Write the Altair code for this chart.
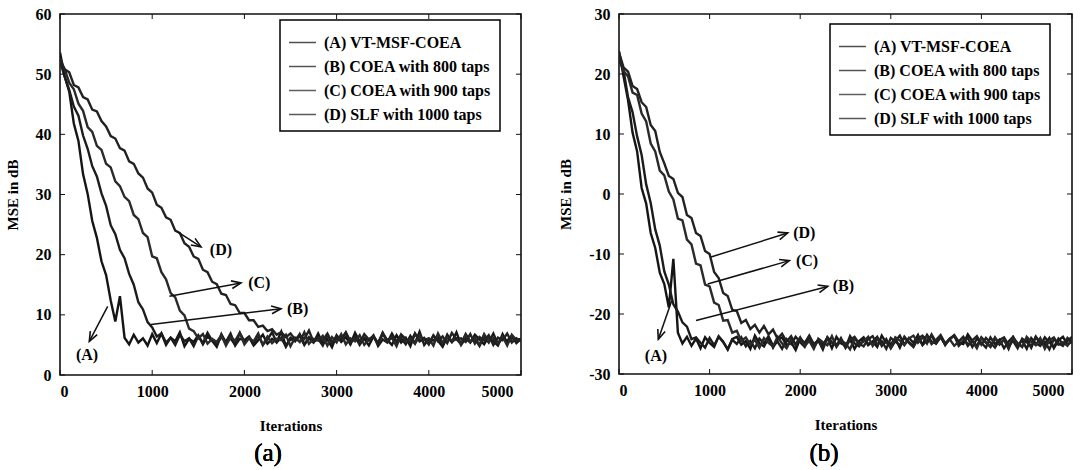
import math
import altair as alt
import pandas as pd

# ---------------- data ----------------
ITER = list(range(0, 5001, 50))
SERIES = ["(A) VT-MSF-COEA", "(B) COEA with 800 taps",
          "(C) COEA with 900 taps", "(D) SLF with 1000 taps"]
X_TICKS = [0, 1000, 2000, 3000, 4000, 5000]
YA_TICKS = [0, 10, 20, 30, 40, 50, 60]
YB_TICKS = [-30, -20, -10, 0, 10, 20, 30]

# panel (a)
A_A = [53.6, 49.7, 47.1, 41.8, 38.9, 33.4, 30.1, 25.6, 22.8, 18.9, 16.6, 12.4, 8.9, 13.1,
       6.2, 5.1, 6.7, 5.4, 6.1, 4.9, 6.8,
       5.3, 6.9, 5.0, 6.2, 5.6, 7.1, 4.8, 6.0, 5.5, 6.6,
       5.1, 6.4, 5.7, 4.7, 6.8, 5.4, 6.1, 5.0, 7.0, 5.6,
       6.3, 4.9, 5.8, 6.7, 5.2, 6.0, 5.5, 7.2, 4.8, 6.2,
       5.7, 6.5, 5.0, 6.1, 5.4, 6.9, 5.2, 5.9, 4.6, 6.6,
       5.5, 6.3, 5.1, 7.0, 5.6, 6.0, 4.9, 6.4, 5.3, 6.8,
       5.8, 5.0, 6.6, 5.4, 6.2, 4.8, 6.9, 5.6, 6.0, 5.2,
       6.5, 5.7, 4.7, 6.3, 5.5, 7.1, 5.0, 6.1, 5.4, 6.7,
       5.9, 5.1, 6.4, 5.6, 4.9, 6.8, 5.3, 6.2, 5.7, 6.0]
B_A = [52.2, 49.6, 47.4, 44.6, 43.1, 39.8, 37.6, 34.7, 33.0, 30.2, 28.1, 24.9, 23.4,
       20.8, 19.4, 16.8, 15.0, 12.1, 10.9, 8.8, 7.9, 6.4, 6.9,
       5.4, 6.2, 5.0, 6.7, 5.6, 6.1, 4.8, 6.5, 5.3, 7.0,
       5.7, 5.1, 6.3, 5.5, 6.9, 4.9, 6.0, 5.8, 6.4, 5.2,
       6.6, 5.0, 5.9, 7.1, 5.4, 6.2, 4.7, 6.0, 5.6, 6.8,
       5.1, 6.3, 5.5, 6.0, 4.9, 6.7, 5.3, 6.1, 5.8, 7.0,
       5.2, 6.4, 5.0, 6.2, 5.7, 6.6, 4.8, 5.9, 5.4, 6.9,
       5.6, 6.1, 5.1, 6.5, 5.3, 7.2, 5.0, 6.0, 5.7, 6.3,
       4.9, 6.7, 5.5, 6.1, 5.2, 6.8, 5.6, 6.0, 4.8, 6.4,
       5.4, 6.9, 5.1, 6.2, 5.7, 6.5, 5.3, 6.0]
C_A = [52.0, 50.9, 48.6, 47.5, 45.1, 43.9, 41.2, 40.4, 38.1, 37.4, 35.1, 34.5, 32.2,
       31.4, 29.6, 28.9, 26.6, 25.9, 23.6, 22.9, 19.7, 19.4, 17.1, 15.9, 13.6, 12.9,
       10.7, 9.9, 7.7, 7.3, 6.1,
       6.8, 5.2, 6.0, 5.5, 6.6, 4.9, 6.3, 5.7, 7.0, 5.1,
       6.1, 5.6, 6.9, 5.0, 6.4, 5.3, 6.0, 5.8, 6.7, 4.8,
       6.2, 5.5, 7.1, 5.2, 6.0, 5.7, 6.5, 4.9, 6.3, 5.4,
       6.8, 5.1, 6.1, 5.6, 6.6, 5.0, 5.9, 6.4, 5.3, 7.0,
       5.5, 6.2, 4.8, 6.7, 5.6, 6.0, 5.2, 6.5, 5.8, 6.1,
       4.9, 6.9, 5.4, 6.3, 5.7, 6.0, 5.1, 6.6, 5.5, 6.2,
       5.0, 6.8, 5.6, 6.1, 5.3, 6.4, 4.9, 6.7, 5.8, 6.0]
D_A = [52.6, 50.8, 50.3, 48.2, 47.8, 46.2, 45.8, 44.1, 43.8, 42.2, 41.3, 39.7, 39.3,
       37.7, 37.3, 35.5, 35.1, 33.5, 32.8, 31.0, 30.3, 28.3, 27.8, 26.2, 25.8, 24.0,
       23.6, 21.9, 21.3, 19.7, 19.3, 17.5, 17.1, 15.5, 15.1, 13.5, 13.3, 11.8, 11.6,
       10.3, 10.3, 9.1, 9.1, 8.0, 8.2, 7.3, 7.6, 6.7, 7.1, 6.3, 6.9,
       5.9, 6.6, 6.0, 7.4, 5.5, 6.3, 5.8, 6.9, 5.4, 6.5,
       6.0, 7.1, 5.6, 6.2, 5.3, 6.8, 5.9, 6.4, 5.2, 7.0,
       5.7, 6.3, 5.5, 6.7, 6.0, 5.4, 6.9, 5.8, 6.2, 5.1,
       6.6, 5.6, 6.4, 5.3, 7.0, 5.9, 6.1, 5.5, 6.8, 5.2,
       6.3, 5.7, 6.6, 5.0, 6.2, 5.8, 6.9, 5.4, 6.1, 5.6]

# panel (b)
A_B = [23.8, 19.6, 15.6, 10.2, 7.1, 1.0, -1.6, -6.5, -9.0, -13.1, -15.0, -18.9, -10.8,
       -23.1, -24.9, -23.8,
       -25.3, -24.1, -25.7, -23.9, -24.8, -25.5, -23.7, -24.6, -25.9, -24.2,
       -23.8, -25.1, -24.5, -25.8, -23.6, -24.9, -25.4, -24.0, -25.6, -24.3,
       -23.9, -25.2, -24.7, -26.0, -24.1, -25.0, -23.7, -25.5, -24.4, -25.1,
       -24.0, -25.7, -23.8, -24.9, -25.3, -24.2, -25.8, -24.5, -23.9, -25.2,
       -24.6, -25.5, -23.6, -24.8, -25.0, -24.1, -25.6, -23.8, -24.7, -25.3,
       -24.0, -25.1, -23.5, -24.6, -24.9, -23.7, -25.2, -24.1, -23.6, -24.8,
       -25.0, -23.4, -24.5, -25.3, -23.9, -24.7, -25.5, -24.0, -25.1, -24.3,
       -25.8, -23.9, -24.9, -25.4, -24.2, -25.6, -23.8, -24.7, -25.2, -24.0,
       -25.7, -24.4, -23.8, -25.1, -24.6]
B_B = [22.4, 20.6, 16.1, 13.6, 9.6, 6.5, 1.6, -1.5, -5.9, -8.6, -12.9, -15.1, -18.4,
       -19.6, -21.4, -22.1, -24.2, -23.9,
       -24.8, -25.6, -24.0, -25.2, -23.8, -24.7, -25.9, -24.3, -25.0, -23.9,
       -25.4, -24.5, -25.7, -24.1, -24.9, -23.7, -25.3, -24.6, -25.8, -24.2,
       -25.0, -23.8, -24.7, -25.5, -24.0, -25.2, -24.4, -25.9, -23.9, -24.8,
       -25.1, -24.3, -25.6, -23.7, -24.9, -25.4, -24.1, -25.0, -24.6, -23.8,
       -25.3, -24.2, -25.7, -24.5, -23.6, -25.1, -24.0, -24.8, -23.5, -25.2,
       -24.4, -23.7, -24.9, -23.9, -25.0, -24.2, -23.6, -25.3, -24.5, -24.0,
       -25.5, -24.1, -24.8, -25.6, -23.9, -25.0, -24.3, -25.7, -24.6, -23.8,
       -25.2, -24.4, -25.8, -24.0, -24.9, -25.3, -23.9, -24.7, -25.5, -24.1,
       -25.0, -24.5, -23.8]
C_B = [23.2, 20.5, 19.6, 16.9, 16.5, 13.4, 12.1, 8.4, 7.1, 3.9, 3.1, 0.4, -0.9, -4.1,
       -4.4, -7.6, -8.4, -11.6, -11.9, -15.1, -15.4, -18.1, -18.5, -21.1, -21.0, -23.1,
       -22.8, -24.5,
       -23.9, -25.1, -24.3, -25.6, -24.0, -24.8, -25.4, -23.8, -24.9, -25.7,
       -24.2, -25.0, -23.9, -25.3, -24.5, -25.8, -24.1, -24.7, -25.2, -23.7,
       -25.5, -24.4, -24.9, -25.9, -24.0, -25.1, -24.6, -23.8, -25.3, -24.2,
       -25.0, -24.7, -25.6, -23.9, -24.4, -25.2, -24.1, -23.6, -24.8, -24.0,
       -23.7, -25.0, -24.3, -23.5, -24.9, -24.2, -25.3, -24.6, -23.8, -25.1,
       -24.5, -25.7, -24.0, -24.8, -25.4, -23.9, -25.0, -24.3, -25.6, -24.1,
       -24.9, -25.5, -23.8, -24.6, -25.2, -24.0, -25.8, -24.4, -23.9, -25.1,
       -24.7, -25.3, -24.2]
D_B = [23.6, 21.1, 20.4, 18.0, 17.5, 15.3, 14.5, 11.5, 10.5, 7.0, 5.1, 3.0, 2.5, 0.2,
       -0.5, -3.5, -4.0, -6.5, -7.0, -9.5, -10.0, -13.0, -14.0, -16.5, -17.0, -19.3,
       -19.5, -21.5, -21.0, -22.5, -21.8, -23.1, -22.0, -23.4, -22.6, -24.1, -23.3,
       -24.6, -23.7, -25.2, -24.1, -24.8, -23.6, -25.0, -24.4, -25.5, -23.9,
       -24.7, -25.3, -24.0, -25.6, -24.3, -23.8, -24.9, -25.4, -24.2, -23.7,
       -25.1, -24.5, -25.8, -24.0, -24.6, -25.2, -23.9, -24.8, -25.5, -24.1,
       -23.6, -24.9, -23.4, -24.7, -23.8, -25.0, -24.2, -23.5, -24.6, -23.9,
       -25.3, -24.4, -23.7, -25.1, -24.0, -24.8, -25.6, -24.3, -23.9, -25.2,
       -24.5, -25.7, -24.1, -24.7, -25.4, -23.8, -25.0, -24.6, -25.9, -24.2,
       -24.9, -25.3, -24.0, -24.7]

# annotation arrows (start x, start y, end x, end y) and label positions
ARROW_LABELS = ["(A)", "(B)", "(C)", "(D)"]
ARR_A = [(517, 11.4, 318, 5.6), (987, 8.4, 2397, 11.0),
         (1186, 13.1, 1963, 15.3), (1276, 23.8, 1529, 21.3)]
LAB_A = [(293, 3.4), (2578, 11.0), (2162, 15.3), (1746, 20.8)]
ARR_B = [(582, -17.8, 434, -24.2), (850, -21.1, 2304, -15.4),
         (979, -15.0, 1880, -11.1), (1015, -10.5, 1862, -6.5)]
LAB_B = [(408, -27.0), (2476, -15.4), (2075, -11.1), (2045, -6.5)]

# ---------------- styling ----------------
LINE_COLORS = ["#151515", "#1c1c1c", "#2a2a2a", "#222222"]
SERIF = "'Liberation Serif', 'Times New Roman', Times, serif"
INK = "#111111"


def panel(vals, ymin, ymax, yticks, W, H, arrows, labels, caption, cap_x, cap_y,
          leg_x, leg_y):
    rows = []
    for name, v in zip(SERIES, vals):
        assert len(v) == len(ITER), (name, len(v))
        for it, m in zip(ITER, v):
            rows.append({"iter": it, "mse": m, "series": name})
    df = pd.DataFrame(rows)

    xs = alt.Scale(domain=[0, 5000], nice=False, zero=False)
    ys = alt.Scale(domain=[ymin, ymax], nice=False, zero=False)
    ax_x = alt.Axis(values=X_TICKS, title="Iterations", labelExpr="'' + datum.value",
                    labelPadding=8, titlePadding=19,
                    labelOffset={"condition": {"test": "datum.value == 5000", "value": -8},
                                 "value": 0})
    ax_y = alt.Axis(values=yticks, title="MSE in dB", labelExpr="'' + datum.value",
                    labelPadding=9, titlePadding=15)

    def X(f):
        return alt.X(f, scale=xs, axis=ax_x)

    def Y(f):
        return alt.Y(f, scale=ys, axis=ax_y)

    lines = alt.Chart(df).mark_line(strokeWidth=2.4, clip=True,
                                    strokeJoin="miter").encode(
        x=X("iter:Q"), y=Y("mse:Q"),
        color=alt.Color("series:N",
                        scale=alt.Scale(domain=SERIES, range=LINE_COLORS),
                        legend=alt.Legend(
                            orient="none", legendX=leg_x, legendY=leg_y, title=None,
                            symbolType="stroke", symbolSize=729, symbolStrokeWidth=1.5,
                            symbolOpacity=0.75,
                            labelFont=SERIF, labelFontSize=16, labelFontWeight="bold",
                            labelColor="black", padding=8, rowPadding=1, labelOffset=7,
                            strokeColor="black", fillColor="white", labelLimit=400,
                            labelExpr="datum.label + '\u00a0\u00a0\u00a0\u00a0'")),
        order=alt.Order("iter:Q"),
    )

    xt = pd.DataFrame({"iter": X_TICKS})
    yt = pd.DataFrame({"mse": yticks})
    tick_style = dict(color=INK, strokeWidth=1)
    t_bot = alt.Chart(xt).mark_rule(**tick_style).encode(
        x=X("iter:Q"), y=alt.value(H), y2=alt.value(H - 5))
    t_top = alt.Chart(xt).mark_rule(**tick_style).encode(
        x=X("iter:Q"), y=alt.value(0), y2=alt.value(5))
    t_left = alt.Chart(yt).mark_rule(**tick_style).encode(
        y=Y("mse:Q"), x=alt.value(0), x2=alt.value(5))
    t_right = alt.Chart(yt).mark_rule(**tick_style).encode(
        y=Y("mse:Q"), x=alt.value(W), x2=alt.value(W - 5))

    # arrows
    px_x = W / 5000.0
    px_y = H / float(ymax - ymin)
    arows = []
    for lab, (x1, y1, x2, y2) in zip(ARROW_LABELS, arrows):
        dx = (x2 - x1) * px_x
        dy_screen = -(y2 - y1) * px_y
        ang = math.degrees(math.atan2(dx, -dy_screen)) % 360
        arows.append({"lab": lab, "x1": x1, "y1": y1, "x2": x2, "y2": y2, "ang": ang})
    adf = pd.DataFrame(arows)
    shafts = alt.Chart(adf).mark_rule(color=INK, strokeWidth=1.5).encode(
        x=X("x1:Q"), y=Y("y1:Q"), x2="x2:Q", y2="y2:Q")
    heads = alt.Chart(adf).mark_point(
        shape="M-0.45,1.1 L0,0 L0.45,1.1", filled=False, size=300,
        strokeWidth=1.6, color=INK, opacity=1).encode(
        x=X("x2:Q"), y=Y("y2:Q"), angle=alt.Angle("ang:Q", scale=None))

    ldf = pd.DataFrame({"lab": ARROW_LABELS,
                        "lx": [p[0] for p in labels], "ly": [p[1] for p in labels]})
    texts = alt.Chart(ldf).mark_text(font=SERIF, fontSize=16, fontWeight="bold",
                                     color="black").encode(
        x=X("lx:Q"), y=Y("ly:Q"), text="lab:N")

    cap = alt.Chart(ldf).mark_text(text=caption, font=SERIF, fontSize=25,
                                   color="black", baseline="middle").encode(
        x=alt.value(cap_x), y=alt.value(cap_y))

    return alt.layer(lines, t_bot, t_top, t_left, t_right, shafts, heads, texts,
                     cap).properties(width=W, height=H)


WA, HA = 461, 361
WB, HB = 453, 360
pa = panel([A_A, B_A, C_A, D_A], 0, 60, YA_TICKS, WA, HA, ARR_A, LAB_A, "(a)",
           208, 439, 220, 6)
pb = panel([A_B, B_B, C_B, D_B], -30, 30, YB_TICKS, WB, HB, ARR_B, LAB_B, "(b)",
           205, 439, 211, 10)

chart = alt.hconcat(pa, pb, spacing=98, bounds="flush").resolve_scale(
    color="independent", x="independent", y="independent"
).resolve_legend(color="independent").properties(
    padding={"left": 4, "top": 5, "right": 0, "bottom": 0},
    background="white",
).configure_view(
    stroke=INK, strokeWidth=1.6
).configure_axis(
    grid=False, ticks=False, domain=False,
    labelFont=SERIF, labelFontSize=16, labelFontWeight="bold", labelColor="black",
    titleFont=SERIF, titleFontSize=15, titleFontWeight="bold", titleColor="black",
).configure_legend(strokeWidth=1.5)

chart.save("out.html", embed_options={"renderer": "svg", "actions": False})
